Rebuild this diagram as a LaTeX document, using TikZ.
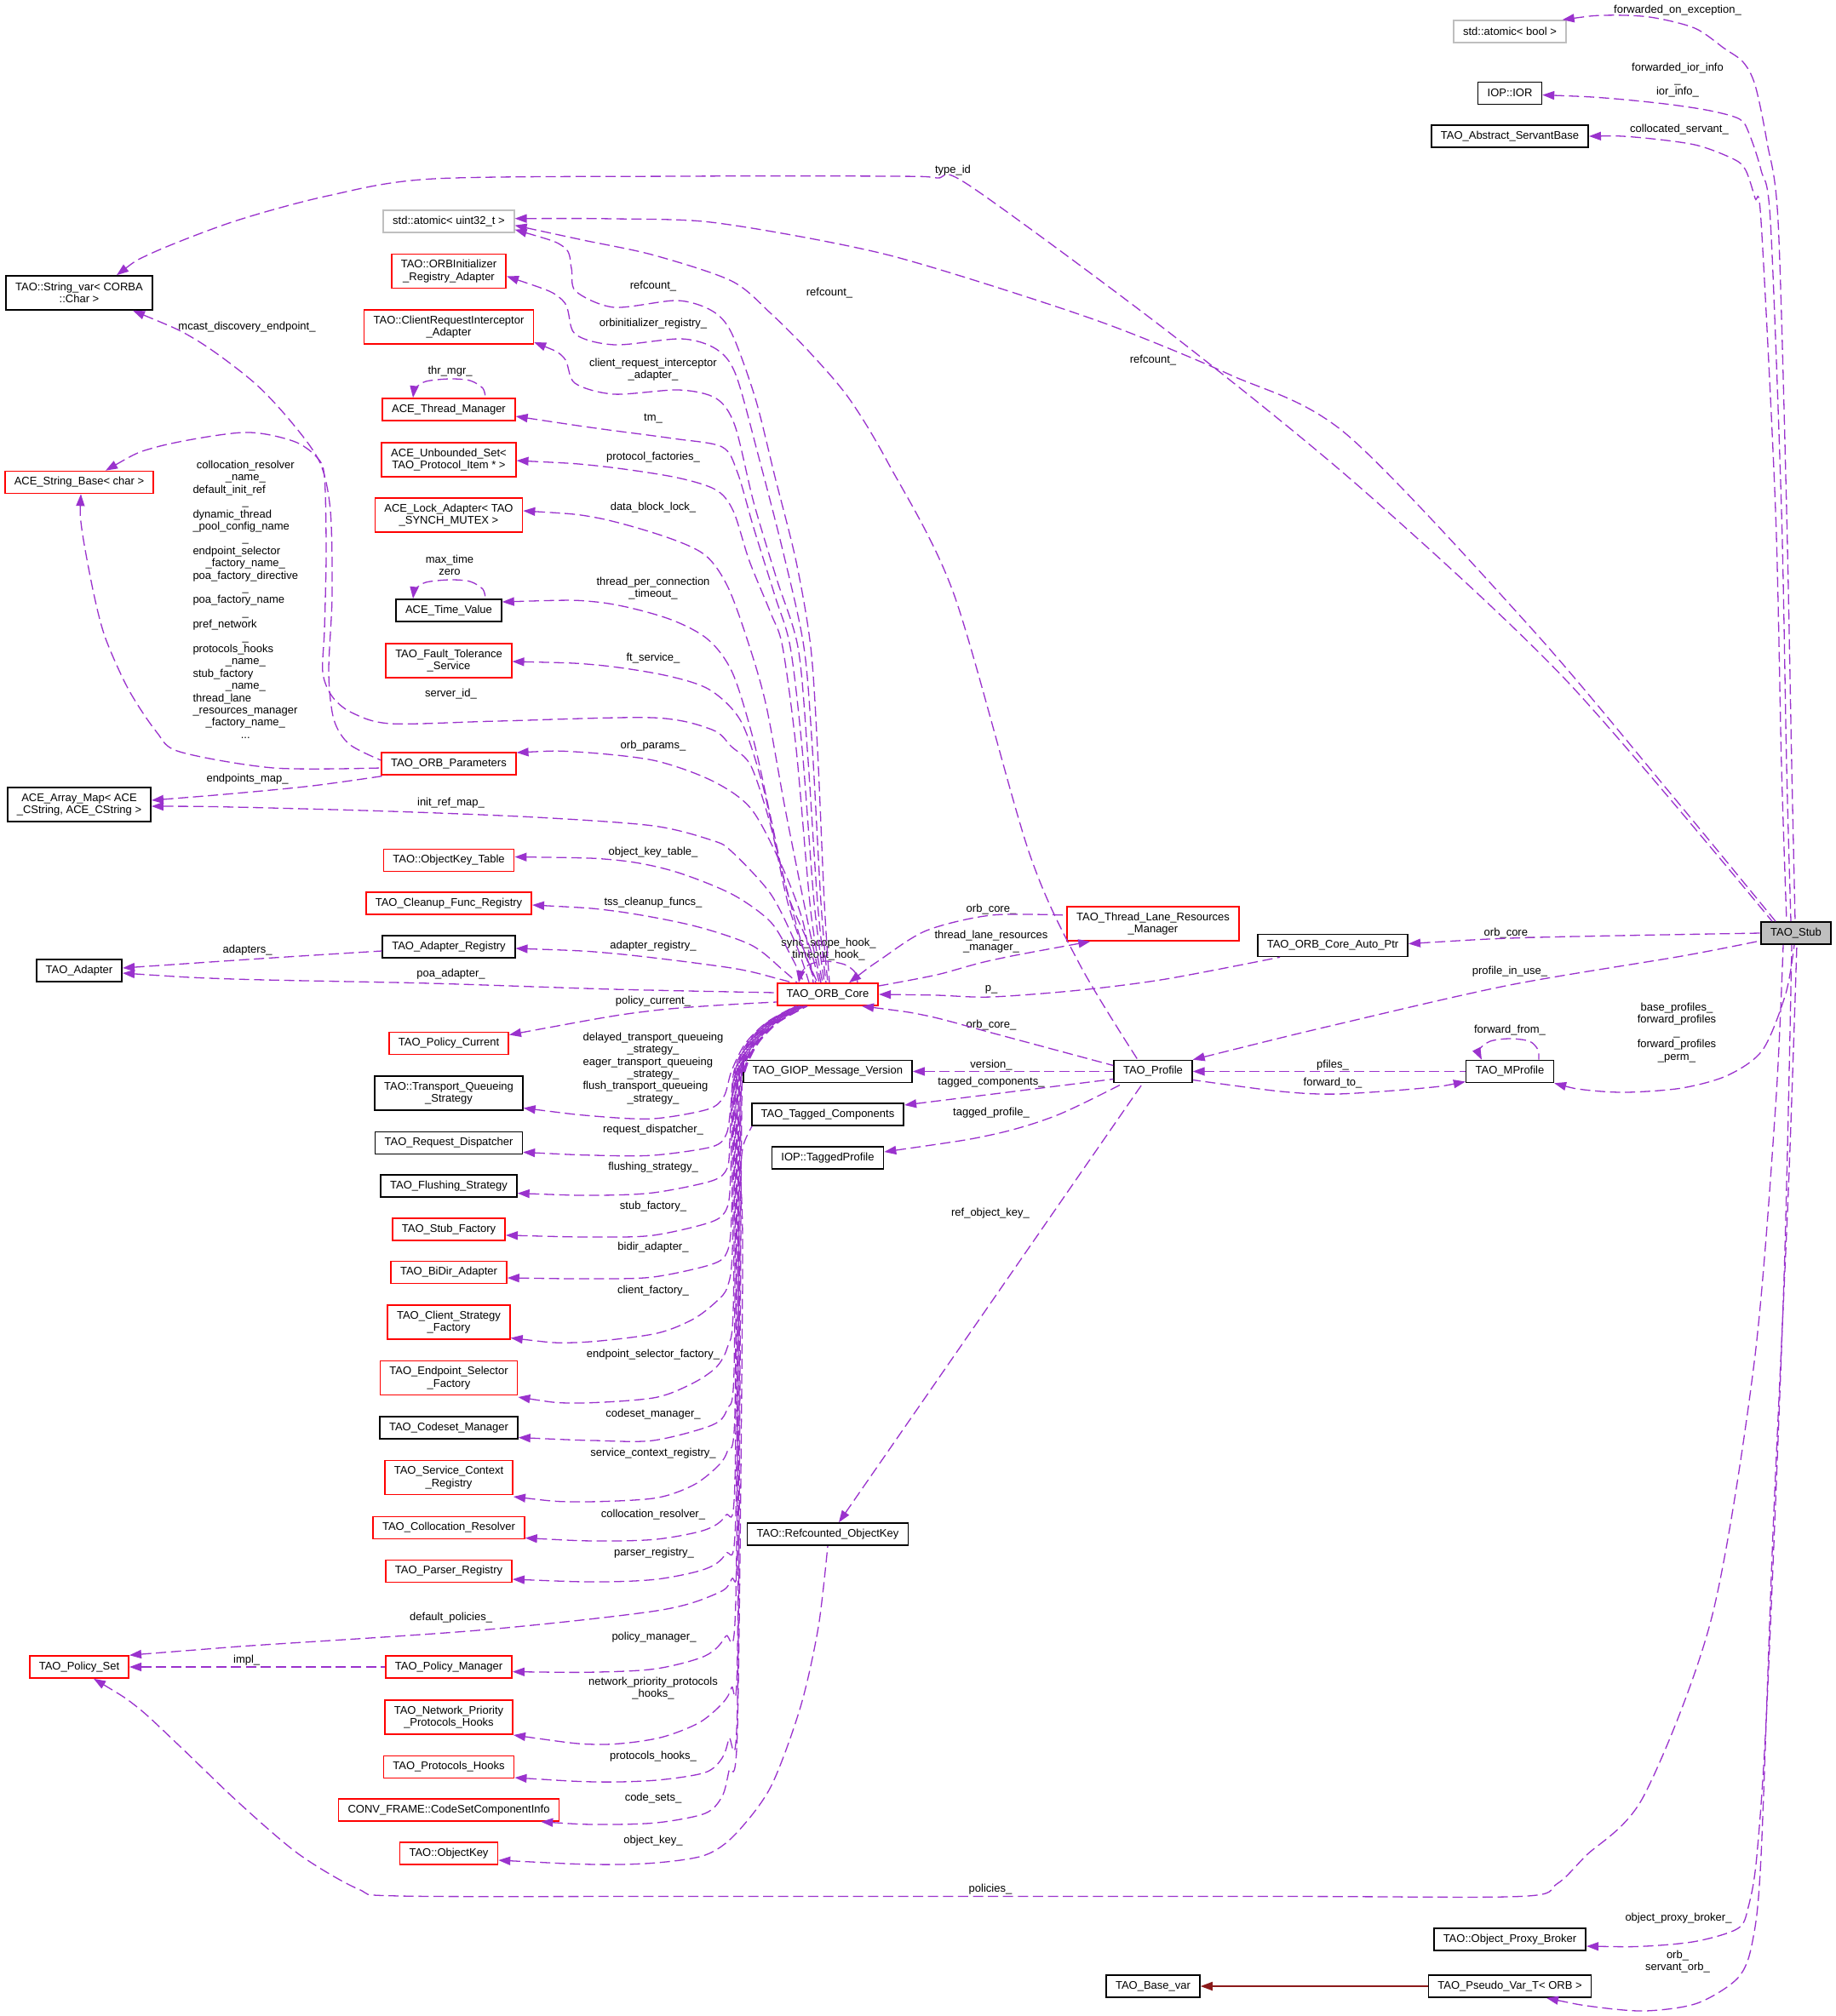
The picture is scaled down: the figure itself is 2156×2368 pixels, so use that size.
\documentclass[tikz,border=0pt]{standalone}
\usepackage{fontspec}
\newfontfamily\dfont{Liberation Sans}
\usetikzlibrary{arrows.meta}
\definecolor{edgec}{HTML}{9A32CD}
\definecolor{inhc}{HTML}{8B1A1A}
\definecolor{rootfill}{HTML}{BFBFBF}
\definecolor{lightb}{HTML}{BFBFBF}
\newcommand\dxc[1]{\multicolumn{1}{@{}c@{}}{#1}}
\tikzset{
  dfnt/.style={font={\dfont\fontsize{6.5}{7.2}\selectfont}},
  box/.style={dfnt, draw=black, line width=0.8pt, inner xsep=5.5pt, inner ysep=2pt, minimum height=13pt, align=center},
  two/.style={minimum height=20pt},
  redb/.style={box, draw=red},
  graybox/.style={box, draw=lightb},
  rootb/.style={box, fill=rootfill},
  lbl/.style={dfnt, inner sep=0pt, align=center},
  mem/.style={draw=edgec, line width=0.65pt, dash pattern=on 6pt off 2.8pt, arrows={Triangle[length=7pt,width=5pt]-}},
  inh/.style={draw=inhc, line width=0.8pt, arrows={Triangle[length=7pt,width=5pt]-}},
}
\begin{document}
\begin{tikzpicture}[x=0.5pt,y=-0.5pt]
\path[fill=white,use as bounding box] (0,0) rectangle (2156,2368);

% ---------- nodes ----------
\node[graybox] (atomicbool) at (1773,37) {std::atomic< bool >};
\node[box] (ior) at (1773,109.5) {IOP::IOR};
\node[box] (servant) at (1773,160) {TAO\_Abstract\_ServantBase};
\node[rootb] (stub) at (2109,1096) {TAO\_Stub};
\node[redb,two] (tlrm) at (1354,1085) {TAO\_Thread\_Lane\_Resources\\\_Manager};
\node[box] (autoptr) at (1565,1110.5) {TAO\_ORB\_Core\_Auto\_Ptr};
\node[box] (profile) at (1354,1258.5) {TAO\_Profile};
\node[box] (mprofile) at (1773,1258.5) {TAO\_MProfile};
\node[box] (proxybroker) at (1773,2278) {TAO::Object\_Proxy\_Broker};
\node[box] (pseudovar) at (1773,2333) {TAO\_Pseudo\_Var\_T< ORB >};
\node[box] (basevar) at (1354,2333) {TAO\_Base\_var};
\node[redb] (core) at (972,1168) {TAO\_ORB\_Core};
\node[box] (giop) at (972,1258.5) {TAO\_GIOP\_Message\_Version};
\node[box] (tagged) at (972,1309) {TAO\_Tagged\_Components};
\node[box] (taggedprof) at (972,1360) {IOP::TaggedProfile};
\node[box] (refkey) at (972,1802) {TAO::Refcounted\_ObjectKey};

\node[graybox] (atomic32) at (527,259.7) {std::atomic< uint32\_t >};
\node[redb,two] (orbinit) at (527,318.5) {TAO::ORBInitializer\\\_Registry\_Adapter};
\node[redb,two] (cri) at (527,384) {TAO::ClientRequestInterceptor\\\_Adapter};
\node[redb] (thrmgr) at (527,481) {ACE\_Thread\_Manager};
\node[redb,two] (unbset) at (527,540) {ACE\_Unbounded\_Set<\\TAO\_Protocol\_Item * >};
\node[redb,two] (lockad) at (527,605) {ACE\_Lock\_Adapter< TAO\\\_SYNCH\_MUTEX >};
\node[box] (timeval) at (527,717) {ACE\_Time\_Value};
\node[redb,two] (ftserv) at (527,776) {TAO\_Fault\_Tolerance\\\_Service};
\node[redb] (orbparams) at (527,897) {TAO\_ORB\_Parameters};
\node[redb] (okt) at (527,1010.5) {TAO::ObjectKey\_Table};
\node[redb] (cleanup) at (527,1061) {TAO\_Cleanup\_Func\_Registry};
\node[box] (adreg) at (527,1112) {TAO\_Adapter\_Registry};
\node[redb] (polcur) at (527,1225.5) {TAO\_Policy\_Current};
\node[box,two] (tqs) at (527,1284) {TAO::Transport\_Queueing\\\_Strategy};
\node[box] (reqdisp) at (527,1342.4) {TAO\_Request\_Dispatcher};
\node[box] (flush) at (527,1393) {TAO\_Flushing\_Strategy};
\node[redb] (stubfac) at (527,1443.7) {TAO\_Stub\_Factory};
\node[redb] (bidir) at (527,1494.4) {TAO\_BiDir\_Adapter};
\node[redb,two] (csf) at (527,1553) {TAO\_Client\_Strategy\\\_Factory};
\node[redb,two] (esf) at (527,1618.5) {TAO\_Endpoint\_Selector\\\_Factory};
\node[box] (codeset) at (527,1677) {TAO\_Codeset\_Manager};
\node[redb,two] (scr) at (527,1735.6) {TAO\_Service\_Context\\\_Registry};
\node[redb] (colres) at (527,1794.5) {TAO\_Collocation\_Resolver};
\node[redb] (parser) at (527,1845.5) {TAO\_Parser\_Registry};
\node[redb] (polman) at (527,1958) {TAO\_Policy\_Manager};
\node[redb,two] (nph) at (527,2017) {TAO\_Network\_Priority\\\_Protocols\_Hooks};
\node[redb] (phooks) at (527,2075.5) {TAO\_Protocols\_Hooks};
\node[redb] (cscinfo) at (527,2126) {CONV\_FRAME::CodeSetComponentInfo};
\node[redb] (objkey) at (527,2177) {TAO::ObjectKey};

\node[box,two] (strvar) at (93,344) {TAO::String\_var< CORBA\\::Char >};
\node[redb] (strbase) at (93,566.5) {ACE\_String\_Base< char >};
\node[box,two] (arrmap) at (93,945) {ACE\_Array\_Map< ACE\\\_CString, ACE\_CString >};
\node[box] (adapter) at (93,1140) {TAO\_Adapter};
\node[redb] (polset) at (93,1958) {TAO\_Policy\_Set};

% ---------- labels ----------
\node[lbl] (l1) at (1970,12) {forwarded\_on\_exception\_};
\node[lbl] (l2) at (1970,94) {forwarded\_ior\_info\\\_\\ior\_info\_};
\node[lbl] (l3) at (1972,152) {collocated\_servant\_};
\node[lbl] (l4) at (1119,200) {type\_id};
\node[lbl] (l5) at (767,336) {refcount\_};
\node[lbl] (l6) at (974,344) {refcount\_};
\node[lbl] (l7) at (1354,423) {refcount\_};
\node[lbl] (l8) at (767,380.6) {orbinitializer\_registry\_};
\node[lbl] (l9) at (767,434) {client\_request\_interceptor\\\_adapter\_};
\node[lbl] (l10) at (290,383.7) {mcast\_discovery\_endpoint\_};
\node[lbl] (l11) at (528.6,436) {thr\_mgr\_};
\node[lbl] (l12) at (767,491.6) {tm\_};
\node[lbl] (l13) at (767,536.8) {protocol\_factories\_};
\node[lbl] (l14) at (767,596) {data\_block\_lock\_};
\node[lbl] (l15) at (528,664) {max\_time\\zero};
\node[lbl] (l16) at (767,691) {thread\_per\_connection\\\_timeout\_};
\node[lbl] (l17) at (767,773) {ft\_service\_};
\node[lbl] (l18) at (529.5,815) {server\_id\_};
\node[lbl] (l19) at (767,876) {orb\_params\_};
\node[lbl] (l20) at (290.6,915) {endpoints\_map\_};
\node[lbl] (l21) at (529.5,942.7) {init\_ref\_map\_};
\node[lbl] (l22) at (767,1000.7) {object\_key\_table\_};
\node[lbl] (l23) at (767,1060) {tss\_cleanup\_funcs\_};
\node[lbl] (l24) at (767,1111) {adapter\_registry\_};
\node[lbl] (l25) at (290.6,1116) {adapters\_};
\node[lbl] (l26) at (529.5,1144) {poa\_adapter\_};
\node[lbl] (l27) at (767,1176) {policy\_current\_};
\node[lbl] (l28) at (767,1255.5) {\begin{tabular}{@{}l@{}}
delayed\_transport\_queueing\\
\dxc{\_strategy\_}\\
eager\_transport\_queueing\\
\dxc{\_strategy\_}\\
flush\_transport\_queueing\\
\dxc{\_strategy\_}
\end{tabular}};
\node[lbl] (l29) at (767,1327.4) {request\_dispatcher\_};
\node[lbl] (l30) at (767,1370.7) {flushing\_strategy\_};
\node[lbl] (l31) at (767,1417) {stub\_factory\_};
\node[lbl] (l32) at (767,1464.8) {bidir\_adapter\_};
\node[lbl] (l33) at (767,1515.7) {client\_factory\_};
\node[lbl] (l34) at (767,1590.7) {endpoint\_selector\_factory\_};
\node[lbl] (l35) at (767,1660.8) {codeset\_manager\_};
\node[lbl] (l36) at (767,1707) {service\_context\_registry\_};
\node[lbl] (l37) at (767,1778.6) {collocation\_resolver\_};
\node[lbl] (l38) at (768,1823.9) {parser\_registry\_};
\node[lbl] (l39) at (529.6,1900) {default\_policies\_};
\node[lbl] (l40) at (768,1922.9) {policy\_manager\_};
\node[lbl] (l41) at (289.7,1950.6) {impl\_};
\node[lbl] (l42) at (767,1983) {network\_priority\_protocols\\\_hooks\_};
\node[lbl] (l43) at (767,2063) {protocols\_hooks\_};
\node[lbl] (l44) at (767,2111.8) {code\_sets\_};
\node[lbl] (l45) at (767,2162.5) {object\_key\_};
\node[lbl] (l46) at (1163,2219) {policies\_};
\node[lbl] (l47) at (973,1115) {sync\_scope\_hook\_\\timeout\_hook\_};
\node[lbl] (l48) at (1164,1068) {orb\_core\_};
\node[lbl] (l49) at (1164,1106) {thread\_lane\_resources\\\_manager\_};
\node[lbl] (l50) at (1164,1162) {p\_};
\node[lbl] (l51) at (1164,1204) {orb\_core\_};
\node[lbl] (l52) at (1164,1251) {version\_};
\node[lbl] (l53) at (1164,1271) {tagged\_components\_};
\node[lbl] (l54) at (1164,1307) {tagged\_profile\_};
\node[lbl] (l55) at (1163,1425) {ref\_object\_key\_};
\node[lbl] (l56) at (1772,1096) {orb\_core\_};
\node[lbl] (l57) at (1773,1141) {profile\_in\_use\_};
\node[lbl] (l58) at (1773,1210) {forward\_from\_};
\node[lbl] (l59) at (1565,1251) {pfiles\_};
\node[lbl] (l60) at (1565,1272) {forward\_to\_};
\node[lbl] (l61) at (1969,1213) {base\_profiles\_\\forward\_profiles\\\_\\forward\_profiles\\\_perm\_};
\node[lbl] (l62) at (1971,2253) {object\_proxy\_broker\_};
\node[lbl] (l63) at (1970,2304) {orb\_\\servant\_orb\_};
\node[lbl] (lbig) at (288.3,706) {\begin{tabular}{@{}l@{}}
\dxc{collocation\_resolver}\\
\dxc{\_name\_}\\
default\_init\_ref\\
\dxc{\_}\\
dynamic\_thread\\
\_pool\_config\_name\\
\dxc{\_}\\
endpoint\_selector\\
\dxc{\_factory\_name\_}\\
poa\_factory\_directive\\
\dxc{\_}\\
poa\_factory\_name\\
\dxc{\_}\\
pref\_network\\
\dxc{\_}\\
protocols\_hooks\\
\dxc{\_name\_}\\
stub\_factory\\
\dxc{\_name\_}\\
thread\_lane\\
\_resources\_manager\\
\dxc{\_factory\_name\_}\\
\dxc{...}
\end{tabular}};

% ---------- ORB_Core upper bundle ----------
\draw[mem] plot[smooth] coordinates {([yshift=-5pt]atomic32.east) (662,290) (671,315) (676,342) (721,361) (795,353) (836,365) (859,391) (887,468) (910,560) (935,660) (952,760) (960,880) (968,1060) ([xshift=1pt]core.north)};
\draw[mem] plot[smooth] coordinates {([yshift=-3pt]orbinit.east) (660,352) (675,392) (722,405) (800,398) (841,410) (864,440) (891,537) (920,650) (944,760) (954,880) (964,1060) (core.north)};
\draw[mem] plot[smooth] coordinates {([yshift=-9pt]cri.east) (662,420) (675,450) (721,463) (797,458) (841,468) (863,500) (885,590) (912,680) (937,760) (948,880) (960,1060) ([xshift=-1pt]core.north)};
\draw[mem] plot[smooth] coordinates {([yshift=-4pt]thrmgr.east) (700,503) (790,515) (848,525) (866,555) (885,620) (910,700) (928,760) (942,880) (956,1060) ([xshift=-2pt]core.north)};
\draw[mem] plot[smooth] coordinates {([yshift=-0.5pt]unbset.east) (700,547) (790,560) (840,575) (861,600) (880,659) (905,720) (919,760) (935,880) (952,1070) ([xshift=-3pt]core.north)};
\draw[mem] plot[smooth] coordinates {([yshift=2.5pt]lockad.east) (700,608) (780,630) (828,652) (855,690) (880,759) (900,830) (922,950) (948,1080) ([xshift=-4pt]core.north)};
\draw[mem] plot[smooth] coordinates {([yshift=5pt]timeval.east) (700,707) (780,725) (830,750) (860,790) (885,870) (905,960) (925,1050) (950,1110) ([xshift=-5pt]core.north)};
\draw[mem] plot[smooth] coordinates {([yshift=-0.5pt]ftserv.east) (700,781) (780,793) (833,810) (870,847) (895,920) (915,1010) (942,1110) ([xshift=-6pt]core.north)};
\draw[mem] plot[smooth] coordinates {([xshift=15.5pt]strbase.north) (184,525) (285,508) (344,518) (372,537) (381,560) (383,650) (381,740) (379,790) (390,818) (413,837) (459,850) (584,847) (767,843) (836,857) (859,877) (882,900) (905,970) (925,1060) (945,1120) ([xshift=-7pt]core.north)};
\draw[mem] plot[smooth] coordinates {([yshift=6.5pt]orbparams.east) (675,883) (767,893) (836,917) (882,950) (918,1017) (943,1083) ([xshift=-8.5pt]core.north)};
\draw[mem] plot[smooth] coordinates {([yshift=-1pt]arrmap.east) (275,948) (459,953) (630,960) (767,970) (836,987) (859,1000) (905,1050) (935,1110) ([xshift=-11pt]core.north)};
\draw[mem] plot[smooth] coordinates {([yshift=2pt]okt.east) (721,1010) (790,1023) (859,1050) (905,1083) (930,1125) ([xshift=-14pt]core.north)};
\draw[mem] plot[smooth] coordinates {([yshift=-1pt]cleanup.east) (721,1070) (813,1087) (882,1110) (920,1140) ([xshift=-18pt]core.north)};
\draw[mem] plot[smooth] coordinates {([yshift=-1pt]adreg.east) (721,1120) (859,1137) (915,1150) ([xshift=-21pt]core.north)};
\draw[mem] plot[smooth] coordinates {([yshift=-1.5pt]adapter.east) (275,1150) (505,1155) (720,1162) ([yshift=1pt]core.west)};
\draw[mem] plot[smooth] coordinates {([yshift=5pt]polcur.east) (767,1187) ([yshift=-4.5pt]core.west)};
\draw[mem] plot[smooth] coordinates {([xshift=-17pt]core.north) (941,1143) (950,1133) (970,1129) (992,1133) (1004,1142) ([xshift=17.5pt]core.north)};

% ---------- ORB_Parameters / Adapter_Registry / Policy_Manager ----------
\draw[mem] plot[smooth] coordinates {([yshift=1.5pt]adapter.east) (321,1125) ([yshift=-2.5pt]adreg.west)};
\draw[mem] plot[smooth] coordinates {([yshift=2.5pt]arrmap.east) (275,932) (367,923) ([xshift=3.5pt]orbparams.south west)};
\draw[mem] plot[smooth] coordinates {([xshift=31.5pt]strvar.south) (230,399) (298,449) (344,498) (376,544) (388,600) (390,700) (386,790) (392,845) (410,874) ([yshift=2pt]orbparams.west)};
\draw[mem] plot[smooth] coordinates {([xshift=1pt]strbase.south) (96,621) (110,697) (124,750) (151,810) (184,860) (211,883) (321,902) ([yshift=-2.5pt]orbparams.west)};
\draw[mem] (polset.east) -- (polman.west);

% ---------- self loops ----------
\draw[mem] plot[smooth] coordinates {([xshift=-21pt]thrmgr.north) (488,456) (500,448) (528,445) (552,447) (567,456) ([xshift=21.5pt]thrmgr.north)};
\draw[mem] plot[smooth] coordinates {([xshift=-21pt]timeval.north) (488,692) (500,684) (528,681) (552,683) (567,692) ([xshift=21.5pt]timeval.north)};
\draw[mem] plot[smooth] coordinates {([xshift=-16.5pt]mprofile.north) (1737,1233) (1750,1223) (1773,1220) (1796,1223) (1806,1233) ([xshift=17pt]mprofile.north)};

% ---------- ORB_Core lower bundle ----------
\draw[mem] plot[smooth] coordinates {([yshift=-8.75pt]tqs.east) (698,1311) (767,1314) (831,1303) (850,1288) (859,1258) (875,1226) (900,1201) ([xshift=-19pt]core.south)};
\draw[mem] plot[smooth] coordinates {([yshift=-5.5pt]reqdisp.east) (698,1357) (767,1357) (836,1347) (853,1332) (858,1300) (862,1258) (877,1226) (901,1201) ([xshift=-18.5pt]core.south)};
\draw[mem] plot[smooth] coordinates {([yshift=-4.3pt]flush.east) (698,1404) (767,1401) (836,1387) (854,1372) (857,1340) (859,1300) (863,1258) (878,1226) (902,1201) ([xshift=-18pt]core.south)};
\draw[mem] plot[smooth] coordinates {([yshift=-3.6pt]stubfac.east) (698,1453) (767,1451) (836,1435) (854,1418) (858,1380) (860,1300) (864,1258) (879,1226) (903,1201) ([xshift=-17.5pt]core.south)};
\draw[mem] plot[smooth] coordinates {([yshift=-3.3pt]bidir.east) (698,1502) (767,1500) (836,1485) (854,1470) (859,1430) (861,1300) (865,1258) (880,1226) (904,1201) ([xshift=-17pt]core.south)};
\draw[mem] plot[smooth] coordinates {([yshift=-9.25pt]csf.east) (675,1577) (767,1567) (813,1550) (841,1529) (854,1512) (860,1470) (862,1300) (866,1258) (881,1226) (905,1201) ([xshift=-16.5pt]core.south)};
\draw[mem] plot[smooth] coordinates {([yshift=-11.25pt]esf.east) (675,1648) (767,1642) (813,1625) (841,1606) (854,1583) (861,1540) (863,1300) (867,1258) (882,1226) (906,1201) ([xshift=-16pt]core.south)};
\draw[mem] plot[smooth] coordinates {([yshift=-5.75pt]codeset.east) (698,1692) (767,1692) (836,1674) (854,1655) (862,1610) (864,1300) (868,1258) (883,1226) (907,1201) ([xshift=-15.5pt]core.south)};
\draw[mem] plot[smooth] coordinates {([yshift=-11.2pt]scr.east) (675,1764) (767,1760) (813,1745) (841,1724) (854,1705) (863,1660) (865,1300) (869,1258) (884,1226) (908,1201) ([xshift=-15pt]core.south)};
\draw[mem] plot[smooth] coordinates {([yshift=-6pt]colres.east) (701,1810) (771,1808) (828,1797) (852,1780) (863,1740) (866,1300) (870,1258) (885,1226) (909,1201) ([xshift=-14.5pt]core.south)};
\draw[mem] plot[smooth] coordinates {([yshift=-4.75pt]parser.east) (701,1858) (771,1855) (828,1843) (852,1825) (864,1780) (867,1300) (871,1258) (886,1226) (910,1201) ([xshift=-14pt]core.south)};
\draw[mem] plot[smooth] coordinates {(polset.north east) (280,1934) (561,1915) (771,1892) (841,1872) (859,1855) (866,1810) (868,1300) (872,1258) (887,1226) (911,1201) ([xshift=-13.5pt]core.south)};
\draw[mem] plot[smooth] coordinates {([yshift=-2.8pt]polman.east) (701,1964) (771,1960) (828,1945) (852,1922) (864,1880) (869,1300) (873,1258) (888,1226) (912,1201) ([xshift=-13pt]core.south)};
\draw[mem] plot[smooth] coordinates {([yshift=-10.5pt]nph.east) (701,2049) (771,2042) (820,2024) (848,2001) (859,1982) (866,1940) (870,1300) (874,1258) (889,1226) (913,1201) ([xshift=-12.5pt]core.south)};
\draw[mem] plot[smooth] coordinates {([yshift=-6.25pt]phooks.east) (701,2093) (771,2091) (828,2082) (848,2065) (856,2042) (866,2000) (871,1300) (875,1258) (890,1226) (914,1201) ([xshift=-12pt]core.south)};
\draw[mem] plot[smooth] coordinates {([xshift=-11pt]cscinfo.south east) (701,2143) (771,2141) (828,2130) (848,2110) (856,2080) (866,2030) (872,1500) (870,1380) (873,1345) ([xshift=0.6pt]tagged.south west)};
\draw[mem] plot[smooth] coordinates {([yshift=-4pt]objkey.east) (701,2190) (771,2188) (828,2179) (863,2155) (905,2099) (940,2005) (961,1911) (refkey.south)};

% ---------- middle / right ----------
\draw[mem] plot[smooth] coordinates {([xshift=-17.5pt]core.north east) (1034,1127) (1088,1093) (1164,1075) ([yshift=5pt]tlrm.west)};
\draw[mem] plot[smooth] coordinates {([xshift=14pt]tlrm.south west) (1164,1128) (1100,1145) ([yshift=5pt]core.east)};
\draw[mem] plot[smooth] coordinates {(core.east) (1100,1169) (1164,1171) (1268,1163) (1369,1150) ([xshift=13.5pt]autoptr.south west)};
\draw[mem] plot[smooth] coordinates {([xshift=-10pt]core.south east) (1088,1193) (1164,1213) ([yshift=3.5pt]profile.west)};
\draw[mem] (giop.east) -- (profile.west);
\draw[mem] ([yshift=5.5pt]tagged.east) -- ([yshift=-4.5pt]profile.west);
\draw[mem] plot[smooth] coordinates {([yshift=3.5pt]taggedprof.east) (1164,1333) (1241,1310) ([xshift=6pt]profile.south west)};
\draw[mem] ([xshift=6.5pt]refkey.north) -- ([xshift=-6pt]profile.south);
\draw[mem] plot[smooth] coordinates {([yshift=-2.5pt]atomic32.east) (684.7,282) (767,299.5) (859,330) (905,368) (951,414) (997,468) (1043,544) (1120,697.5) (1208,1000) (1268,1133) ([xshift=-9pt]profile.north)};
\draw[mem] plot[smooth] coordinates {([yshift=1.5pt]atomic32.east) (721,257) (825,260) (935,277) (1045,300) (1169,337) (1306,383) (1444,440) (1581,510) (1800,740) (1960,930) ([xshift=-12pt]stub.north)};
\draw[mem] plot[smooth] coordinates {([xshift=22pt]strvar.north) (179,297) (275,260) (385,230) (509,210) (800,207) (1050,207) (1100,209) (1140,219) (1380,396) (1600,575) (1840,800) ([xshift=-14pt]stub.north)};
\draw[mem] plot[smooth] coordinates {([xshift=-2.5pt]atomicbool.north east) (1884,18) (1937,20) (1990,33) (2025,57) (2047,73) (2061,100) (2075,167) (2088,260) (2098,600) (2104,900) ([xshift=-0.5pt]stub.north)};
\draw[mem] plot[smooth] coordinates {([yshift=-1pt]ior.east) (1884,115) (1955,122) (2008,130) (2043,140) (2054,157) (2068,200) (2079,260) (2092,600) (2098,900) ([xshift=-3pt]stub.north)};
\draw[mem] plot[smooth] coordinates {(servant.east) (1919,161) (1990,170) (2036,187) (2050,200) (2061,233) (2068,260) (2085,600) (2092,900) ([xshift=-5.5pt]stub.north)};
\draw[mem] plot[smooth] coordinates {([yshift=1pt]autoptr.east) (1773,1102) (1900,1099) (stub.west)};
\draw[mem] plot[smooth] coordinates {(profile.north east) (1571,1203) (1773,1157) (1975,1123) ([yshift=-4.5pt]stub.west)};
\draw[mem] plot[smooth] coordinates {(mprofile.south east) (1860,1280) (1910,1283) (1975,1278) (2029,1263) (2070,1233) (2097,1167) ([xshift=-1pt]stub.south)};
\draw[mem] (profile.east) -- (mprofile.west);
\draw[mem] plot[smooth] coordinates {([yshift=-6pt]mprofile.west) (1672,1278) (1571,1285) (1504,1282) ([yshift=-5pt]profile.east)};
\draw[mem] plot[smooth] coordinates {([xshift=8.5pt]polset.south) (161,2005) (210,2050) (281,2118) (351,2178) (421,2219) (470,2227) (800,2227.5) (1500,2227.5) (1785,2227.5) (1828,2213) (1862,2180) (1930,2110) (2010,1900) (2060,1600) (2085,1300) ([xshift=-7.5pt]stub.south)};
\draw[mem] plot[smooth] coordinates {([yshift=-4pt]proxybroker.east) (1932,2286) (1993,2280) (2041,2265) (2053,2240) (2063,2180) (2075,2000) (2095,1500) ([xshift=-2.5pt]stub.south)};
\draw[mem] plot[smooth] coordinates {([xshift=21.5pt]pseudovar.south) (1871,2357) (1932,2362) (1993,2353) (2041,2323) (2058,2280) (2068,2180) (2082,1800) (2100,1400) ([xshift=0.5pt]stub.south)};
\draw[inh] (basevar.east) -- (pseudovar.west);
\end{tikzpicture}
\end{document}
